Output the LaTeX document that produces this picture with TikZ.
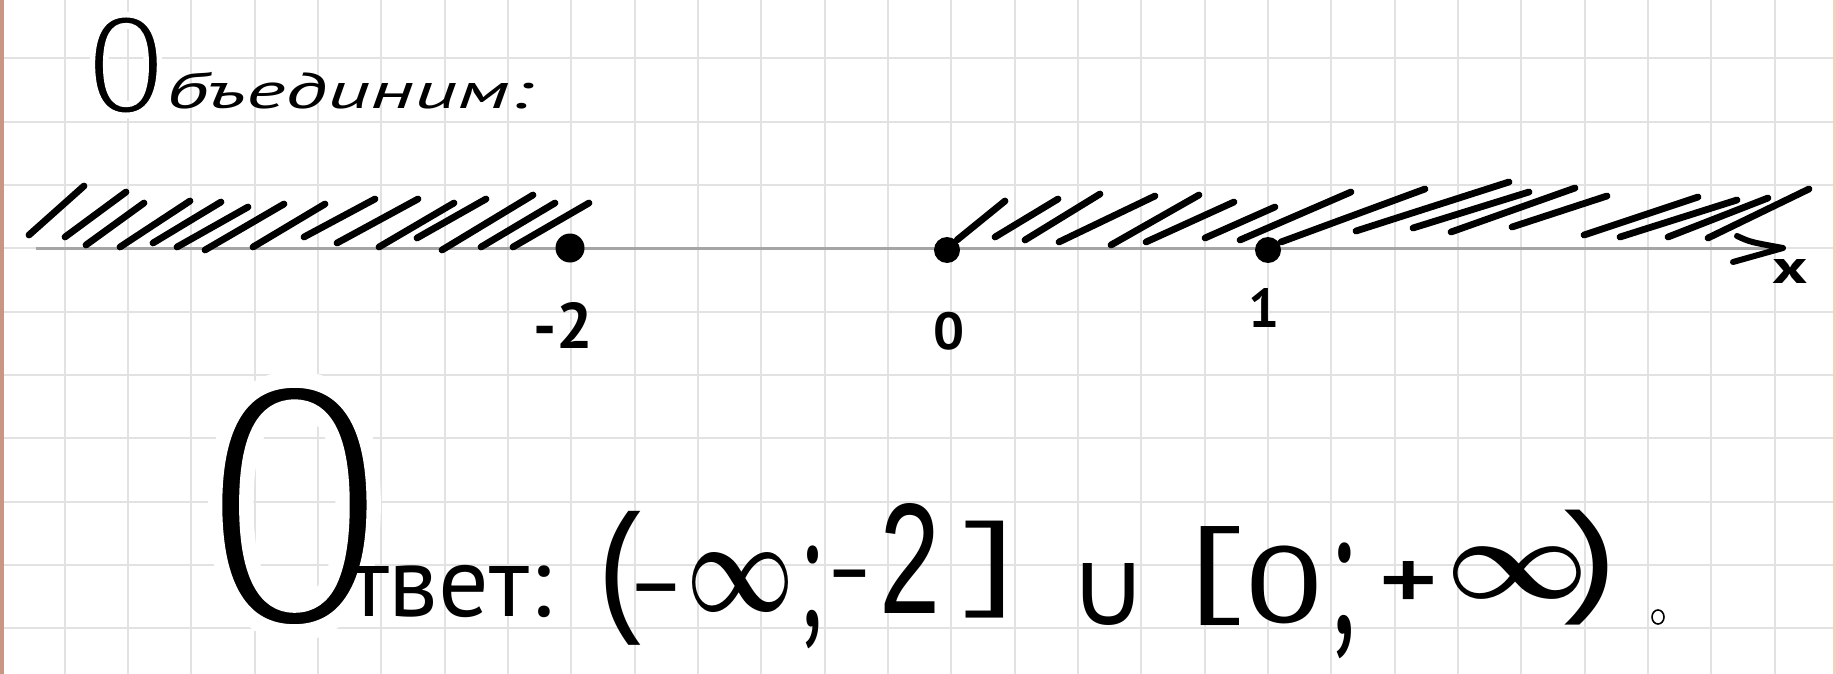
\documentclass[tikz,border=0pt]{standalone}
\usepackage{fontspec}
\usepackage{graphicx}
\newfontfamily\mono{Liberation Mono}
\newfontfamily\pts{PT Sans}
\newfontfamily\dvs{DejaVu Sans}
\newdimen\pxu \pxu=0.5pt
\newcommand\gl[3]{\scalebox{#1}[1]{\resizebox*{!}{#2\pxu}{#3}}}
\newcommand\thinink[2]{\special{x:gsave}\special{pdf:literal direct 1 1 1 RG 1 j #1 w 2 Tr}#2\special{x:grestore}}
\definecolor{gridc}{RGB}{226,226,226}
\definecolor{axisc}{RGB}{165,165,165}
\definecolor{leftb}{RGB}{200,150,130}
\definecolor{rightb}{RGB}{240,210,195}
\begin{document}
\begin{tikzpicture}[x=0.5pt,y=-0.5pt,
  txt/.style={inner sep=0pt,outer sep=0pt,anchor=center},
  pen/.style={line width=3.4pt,line cap=round,line join=round},
  gridline/.style={gridc,line width=1pt},
  axisline/.style={axisc,line width=1.5pt},
  dotpt/.style={circle,fill=black,inner sep=0pt,minimum size=#1}]
\fill[white] (0,0) rectangle (1836,674);
\useasboundingbox (0,0) rectangle (1836,674);
% grid paper
\foreach \k in {0,...,28} \draw[gridline] ({1.5+63.33*\k},0) -- ({1.5+63.33*\k},674);
\foreach \k in {0,...,9} \draw[gridline] (0,{58.3+63.33*\k}) -- (1836,{58.3+63.33*\k});
\fill[leftb] (0,0) rectangle (3.5,674);
\fill[rightb] (1833,0) rectangle (1836,674);

% title
\node[txt] (tO) at (126,65) {\gl{0.9}{101}{\thinink{0.4}{\mono О}}};
\node[txt,anchor=base west] (trest) at (166,109) {\resizebox{183pt}{\height}{\fontsize{25}{25}\selectfont\pts\itshape бъединим:}};

% axis
\coordinate (axL) at (36,248);
\coordinate (axR) at (1783,248);
\coordinate (arU) at (1737,236);
\coordinate (arD) at (1733,262);
\draw[axisline] (axL) -- (axR);
\draw[pen,line width=3pt] (arU) .. controls (1750,242) .. (axR) -- (arD);

% hatching left
\foreach \a/\b/\c/\d in {29/235/84/186, 65/237/126/192, 86/245/144/203, 120/247/190/201,
  153/243/221/202, 177/247/248/207, 205/250/284/204, 253/247/325/204, 304/237/375/199,
  337/243/418/199, 379/247/454/203, 417/238/486/199, 442/250/533/195, 481/247/555/203,
  513/247/589/203}
  \draw[pen] (\a,\b) -- (\c,\d);
% hatching right
\foreach \a/\b/\c/\d in {957/240/1005/201, 995/237/1058/199, 1025/240/1100/194,
  1059/242/1155/196, 1111/245/1199/195, 1146/242/1234/202, 1205/238/1275/207,
  1240/240/1351/192, 1281/242/1425/189, 1356/231/1509/182, 1413/228/1529/192,
  1451/232/1575/188, 1512/227/1607/196, 1584/235/1698/197, 1620/237/1737/200,
  1668/237/1768/198, 1708/238/1809/189}
  \draw[pen] (\a,\b) -- (\c,\d);

% points
\node[dotpt=14.5pt] (pm2) at (570,248) {};
\node[dotpt=13pt] (p0) at (947,250) {};
\node[dotpt=13pt] (p1) at (1268,250) {};

% axis labels
\node[txt] (lm2) at (563,325) {\gl{1}{46}{\pts\bfseries -2}};
\node[txt] (l0) at (949,331) {\gl{1.05}{38}{\pts\bfseries 0}};
\node[txt] (l1) at (1264,307.5) {\gl{1}{39}{\pts\bfseries 1}};
\node[txt] (lx) at (1790,271) {\gl{1.4}{24}{\pts\bfseries x}};

% answer
\node[txt] (aO) at (294.5,506) {\gl{0.85}{253}{\thinink{0.45}{\mono О}}};
\node[txt,anchor=base west] (atv) at (349,616) {\fontsize{50}{50}\selectfont\pts твет:};
\node[txt] (alp) at (623.5,578) {\gl{0.9}{134}{\mono(}};
\node[txt,anchor=base] (am1) at (656,616) {\scalebox{1.6}[1]{\fontsize{50}{50}\selectfont\pts -}};
\node[txt] (ainf1) at (741,582) {\gl{0.72}{58}{\boldmath$\infty$}};
\node[txt] (asc1) at (811,597) {\gl{0.6}{103}{\pts;}};
\node[txt,anchor=base] (am2) at (850,602) {\scalebox{1.3}[1]{\fontsize{50}{50}\selectfont\pts -}};
\node[txt] (a2) at (910.5,558) {\gl{0.66}{110}{\mono 2}};
\node[txt] (arb) at (989.5,570) {\gl{1.35}{97}{\mono]}};
\node[txt] (acup) at (1109,594) {\gl{1.0}{62}{\dvs ∪}};
\node[txt] (alb) at (1215.5,576) {\gl{1.35}{99}{\mono[}};
\node[txt] (a0) at (1285,585) {\gl{1.4}{78}{\sffamily 0}};
\node[txt] (asc2) at (1342,601) {\gl{0.6}{116}{\pts;}};
\node[txt] (apl) at (1409,583) {\gl{1.3}{44}{\mono\bfseries +}};
\node[txt] (ainf2) at (1517,572.5) {\gl{1.09}{51}{\boldmath$\infty$}};
\node[txt] (arp) at (1586.5,568) {\gl{1.3}{115}{\mono)}};
\draw[line width=0.8pt] (1658,617) ellipse [x radius=6, y radius=7];
\end{tikzpicture}
\end{document}
